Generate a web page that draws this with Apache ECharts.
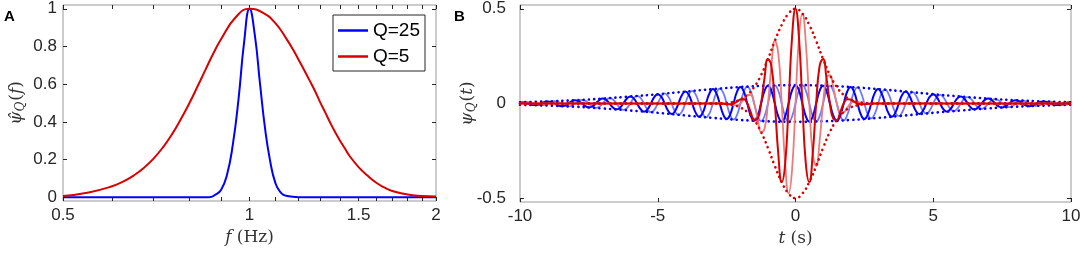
<!DOCTYPE html>
<html>
<head>
<meta charset="utf-8">
<script src="https://cdn.jsdelivr.net/npm/echarts@6/dist/echarts.min.js"></script>
<style>
  html, body { margin: 0; padding: 0; background: #fff; }
  #chart { width: 1084px; height: 256px; }
</style>
</head>
<body>
<div id="chart"></div>
<script>
// ---- panel A: frequency response (x is log scale, 0.5 .. 2 Hz)
const freqTicks = [0.5, 0.6, 0.7, 0.8, 0.9, 1, 1.1, 1.2, 1.3, 1.4, 1.5, 1.6, 1.7, 1.8, 1.9, 2];
const freqLabels = [0.5, 1, 1.5, 2];
const respTicks = [0, 0.2, 0.4, 0.6, 0.8, 1];

const freqBlue = [0.5, 0.8, 0.86, 0.88, 0.9, 0.92, 0.94, 0.96, 0.98, 1, 1.02, 1.04, 1.06, 1.08, 1.1, 1.12, 1.15, 1.2, 1.5, 2];
const respBlue = [0, 0, 0, 0.012, 0.04, 0.12, 0.28, 0.52, 0.82, 1, 0.86, 0.6, 0.36, 0.19, 0.08, 0.03, 0.006, 0, 0, 0];

const freqRed = [0.5, 0.55, 0.6, 0.625, 0.65, 0.675, 0.7, 0.725, 0.75, 0.775, 0.8, 0.825, 0.85, 0.875, 0.9, 0.95, 1,
  1.05, 1.1, 1.15, 1.175, 1.2, 1.225, 1.25, 1.275, 1.3, 1.325, 1.35, 1.375, 1.4, 1.425, 1.45, 1.5, 1.55, 1.6, 1.65,
  1.7, 1.8, 1.9, 2];
const respRed = [0.006, 0.025, 0.058, 0.083, 0.115, 0.155, 0.205, 0.265, 0.335, 0.415, 0.5, 0.59, 0.68, 0.765, 0.84, 0.955, 1,
  0.98, 0.925, 0.835, 0.785, 0.73, 0.675, 0.62, 0.565, 0.505, 0.45, 0.395, 0.345, 0.3, 0.26, 0.22, 0.16, 0.115, 0.078, 0.052,
  0.033, 0.014, 0.007, 0.004];

// ---- panel B: wavelets in time
const timeTicks = [-0.5, 0, 0.5];

// Q=25, sampled every 1/8 s
const tBlue = [-10,
  -9.875, -9.75, -9.625, -9.5, -9.375, -9.25, -9.125, -9,
  -8.875, -8.75, -8.625, -8.5, -8.375, -8.25, -8.125, -8,
  -7.875, -7.75, -7.625, -7.5, -7.375, -7.25, -7.125, -7,
  -6.875, -6.75, -6.625, -6.5, -6.375, -6.25, -6.125, -6,
  -5.875, -5.75, -5.625, -5.5, -5.375, -5.25, -5.125, -5,
  -4.875, -4.75, -4.625, -4.5, -4.375, -4.25, -4.125, -4,
  -3.875, -3.75, -3.625, -3.5, -3.375, -3.25, -3.125, -3,
  -2.875, -2.75, -2.625, -2.5, -2.375, -2.25, -2.125, -2,
  -1.875, -1.75, -1.625, -1.5, -1.375, -1.25, -1.125, -1,
  -0.875, -0.75, -0.625, -0.5, -0.375, -0.25, -0.125,
  0, 0.125, 0.25, 0.375, 0.5, 0.625, 0.75, 0.875,
  1, 1.125, 1.25, 1.375, 1.5, 1.625, 1.75, 1.875,
  2, 2.125, 2.25, 2.375, 2.5, 2.625, 2.75, 2.875,
  3, 3.125, 3.25, 3.375, 3.5, 3.625, 3.75, 3.875,
  4, 4.125, 4.25, 4.375, 4.5, 4.625, 4.75, 4.875,
  5, 5.125, 5.25, 5.375, 5.5, 5.625, 5.75, 5.875,
  6, 6.125, 6.25, 6.375, 6.5, 6.625, 6.75, 6.875,
  7, 7.125, 7.25, 7.375, 7.5, 7.625, 7.75, 7.875,
  8, 8.125, 8.25, 8.375, 8.5, 8.625, 8.75, 8.875,
  9, 9.125, 9.25, 9.375, 9.5, 9.625, 9.75, 9.875,
  10];
const blueRe = [0.0065,
  0.005, 0, -0.0057, -0.0085, -0.0064, 0, 0.0074, 0.011,
  0.0083, 0, -0.0092, -0.014, -0.0105, 0, 0.0113, 0.017,
  0.0127, 0, -0.014, -0.021, -0.0156, 0, 0.0173, 0.026,
  0.019, 0, -0.021, -0.031, -0.023, 0, 0.025, 0.037,
  0.027, 0, -0.029, -0.043, -0.0315, 0, 0.0335, 0.049,
  0.036, 0, -0.0385, -0.056, -0.041, 0, 0.0435, 0.063,
  0.046, 0, -0.048, -0.070, -0.051, 0, 0.053, 0.076,
  0.055, 0, -0.057, -0.082, -0.059, 0, 0.061, 0.087,
  0.062, 0, -0.064, -0.091, -0.065, 0, 0.066, 0.094,
  0.067, 0, -0.0675, -0.096, -0.068, 0, 0.069,
  0.097, 0.069, 0, -0.068, -0.096, -0.0675, 0, 0.067,
  0.094, 0.066, 0, -0.065, -0.091, -0.064, 0, 0.062,
  0.087, 0.061, 0, -0.059, -0.082, -0.057, 0, 0.055,
  0.076, 0.053, 0, -0.051, -0.070, -0.048, 0, 0.046,
  0.063, 0.0435, 0, -0.041, -0.056, -0.0385, 0, 0.036,
  0.049, 0.0335, 0, -0.0315, -0.043, -0.029, 0, 0.027,
  0.037, 0.025, 0, -0.023, -0.031, -0.021, 0, 0.019,
  0.026, 0.0173, 0, -0.0156, -0.021, -0.014, 0, 0.0127,
  0.017, 0.0113, 0, -0.0105, -0.014, -0.0092, 0, 0.0083,
  0.011, 0.0074, 0, -0.0064, -0.0085, -0.0057, 0, 0.005,
  0.0065];
const blueIm = [0,
  0.005, 0.0075, 0.0057, 0, -0.0064, -0.0097, -0.0074, 0,
  0.0083, 0.0125, 0.0092, 0, -0.0105, -0.0155, -0.0113, 0,
  0.0127, 0.019, 0.014, 0, -0.0156, -0.023, -0.0173, 0,
  0.019, 0.028, 0.021, 0, -0.023, -0.034, -0.025, 0,
  0.027, 0.040, 0.029, 0, -0.0315, -0.046, -0.0335, 0,
  0.036, 0.053, 0.0385, 0, -0.041, -0.060, -0.0435, 0,
  0.046, 0.067, 0.048, 0, -0.051, -0.073, -0.053, 0,
  0.055, 0.079, 0.057, 0, -0.059, -0.085, -0.061, 0,
  0.062, 0.089, 0.064, 0, -0.065, -0.093, -0.066, 0,
  0.067, 0.095, 0.0675, 0, -0.068, -0.097, -0.069,
  0, 0.069, 0.097, 0.068, 0, -0.0675, -0.095, -0.067,
  0, 0.066, 0.093, 0.065, 0, -0.064, -0.089, -0.062,
  0, 0.061, 0.085, 0.059, 0, -0.057, -0.079, -0.055,
  0, 0.053, 0.073, 0.051, 0, -0.048, -0.067, -0.046,
  0, 0.0435, 0.060, 0.041, 0, -0.0385, -0.053, -0.036,
  0, 0.0335, 0.046, 0.0315, 0, -0.029, -0.040, -0.027,
  0, 0.025, 0.034, 0.023, 0, -0.021, -0.028, -0.019,
  0, 0.0173, 0.023, 0.0156, 0, -0.014, -0.019, -0.0127,
  0, 0.0113, 0.0155, 0.0105, 0, -0.0092, -0.0125, -0.0083,
  0, 0.0074, 0.0097, 0.0064, 0, -0.0057, -0.0075, -0.005,
  0];

const tBlueEnv = [-10, -9, -8, -7, -6, -5, -4, -3, -2, -1, 0, 1, 2, 3, 4, 5, 6, 7, 8, 9, 10];
const blueEnv = [0.0065, 0.011, 0.017, 0.026, 0.037, 0.049, 0.063, 0.076, 0.087, 0.094, 0.097,
  0.094, 0.087, 0.076, 0.063, 0.049, 0.037, 0.026, 0.017, 0.011, 0.0065];

// Q=5
const tRed = [-10, -3, -2.875, -2.75, -2.625, -2.5, -2.375, -2.25, -2.125, -2, -1.875, -1.75, -1.625,
  -1.5, -1.375, -1.25, -1.125, -1, -0.875, -0.75, -0.625, -0.5, -0.375, -0.25, -0.125, 0,
  0.125, 0.25, 0.375, 0.5, 0.625, 0.75, 0.875, 1, 1.125, 1.25, 1.375, 1.5, 1.625, 1.75,
  1.875, 2, 2.125, 2.25, 2.375, 2.5, 2.625, 2.75, 2.875, 3, 10];
const redRe = [0, 0, 0.0005, 0, -0.0017, -0.0035, -0.004, 0, 0.010, 0.021, 0.022, 0, -0.045,
  -0.087, -0.081, 0, 0.134, 0.235, 0.198, 0, -0.265, -0.415, -0.318, 0, 0.35, 0.5,
  0.35, 0, -0.318, -0.415, -0.265, 0, 0.198, 0.235, 0.134, 0, -0.081, -0.087, -0.045, 0,
  0.022, 0.021, 0.010, 0, -0.004, -0.0035, -0.0017, 0, 0.0005, 0, 0];
const redIm = [0, 0, 0.0005, 0.001, 0.0017, 0, -0.004, -0.009, -0.010, 0, 0.022, 0.045, 0.045,
  0, -0.081, -0.15, -0.134, 0, 0.198, 0.33, 0.265, 0, -0.318, -0.475, -0.35, 0,
  0.35, 0.475, 0.318, 0, -0.265, -0.33, -0.198, 0, 0.134, 0.15, 0.081, 0, -0.045, -0.045,
  -0.022, 0, 0.010, 0.009, 0.004, 0, -0.0017, -0.001, -0.0005, 0, 0];

const tRedEnv = [-10, -3, -2.75, -2.5, -2.25, -2, -1.75, -1.5, -1.25, -1, -0.75, -0.5, -0.25, 0,
  0.25, 0.5, 0.75, 1, 1.25, 1.5, 1.75, 2, 2.25, 2.5, 2.75, 3, 10];
const redEnv = [0, 0, 0.001, 0.0035, 0.009, 0.021, 0.045, 0.087, 0.15, 0.235, 0.33, 0.415, 0.475, 0.5,
  0.475, 0.415, 0.33, 0.235, 0.15, 0.087, 0.045, 0.021, 0.009, 0.0035, 0.001, 0, 0];

const BLUE = "#0000ff";
const BLUE_LIGHT = "#6b7bff";
const RED = "#d90000";
const RED_LIGHT = "#ef7a7a";
const TXT = "#262626";

function pairs(xs, ys, fx) {
  return xs.map((x, i) => [fx ? fx(x) : x, ys[i]]);
}

const tick = { show: true, inside: true, length: 4, lineStyle: { color: TXT, width: 1 } };
const noLine = { show: false, onZero: false };
const label = { fontFamily: "Liberation Sans", fontSize: 17, color: TXT };
const serif = { fontFamily: "DejaVu Serif", fontSize: 17, color: "#333" };
const serifI = Object.assign({}, serif, { fontStyle: "italic" });

function line(name, data, color, width, xi, yi, extra) {
  return Object.assign({
    name: name,
    type: "line",
    xAxisIndex: xi,
    yAxisIndex: yi,
    data: data,
    symbol: "none",
    smooth: 0.5,
    lineStyle: { color: color, width: width },
    itemStyle: { color: color },
    silent: true
  }, extra || {});
}

const dotted = (color) => ({ color: color, width: 2.6, type: [0.1, 5.2], cap: "round" });

const logTicks = freqTicks.map(Math.log2);
const logLabels = freqLabels.map(Math.log2);

const options = {
  animation: false,
  backgroundColor: "#fff",
  grid: [
    { left: 63, top: 5, width: 373, height: 196, show: true, borderColor: "#999", borderWidth: 1 },
    { left: 520, top: 5, width: 551, height: 197, show: true, borderColor: "#999", borderWidth: 1 }
  ],
  legend: {
    data: ["Q=25", "Q=5"],
    orient: "vertical",
    left: 333,
    top: 15,
    padding: [6, 5, 5, 5],
    itemGap: 7,
    itemWidth: 30,
    itemHeight: 2.5,
    icon: "rect",
    borderColor: TXT,
    borderWidth: 1,
    backgroundColor: "#fff",
    textStyle: { fontFamily: "Liberation Sans", fontSize: 19, color: "#000", lineHeight: 19 }
  },
  xAxis: [
    {
      gridIndex: 0, type: "value", position: "bottom", min: -1, max: 1,
      axisLine: noLine, splitLine: { show: false },
      axisTick: Object.assign({ customValues: logTicks }, tick),
      axisLabel: Object.assign({ customValues: logLabels, margin: 6,
        formatter: (v) => String(+Math.pow(2, v).toFixed(2)) }, label),
      name: "{i|f}{p| (Hz)}", nameLocation: "middle", nameGap: 25,
      nameTextStyle: { rich: { i: serifI, p: serif } }
    },
    {
      gridIndex: 0, type: "value", position: "top", min: -1, max: 1,
      axisLine: noLine, splitLine: { show: false },
      axisTick: Object.assign({ customValues: logTicks }, tick),
      axisLabel: { show: false }
    },
    {
      gridIndex: 1, type: "value", position: "bottom", min: -10, max: 10, interval: 5,
      axisLine: noLine, splitLine: { show: false },
      axisTick: tick,
      axisLabel: Object.assign({ margin: 6 }, label),
      name: "{i|t}{p| (s)}", nameLocation: "middle", nameGap: 25,
      nameTextStyle: { rich: { i: serifI, p: serif } }
    },
    {
      gridIndex: 1, type: "value", position: "top", min: -10, max: 10, interval: 5,
      axisLine: noLine, splitLine: { show: false },
      axisTick: tick, axisLabel: { show: false }
    }
  ],
  yAxis: [
    {
      gridIndex: 0, type: "value", position: "left", min: -0.02, max: 1.02,
      axisLine: noLine, splitLine: { show: false },
      axisTick: Object.assign({ customValues: respTicks }, tick),
      axisLabel: Object.assign({ customValues: respTicks, margin: 6 }, label),
      name: "{h|\u03C8\u0302}{s|Q}{p|(}{i|f}{p|)}", nameLocation: "middle", nameGap: 36,
      nameMoveOverlap: false,
      nameTextStyle: { rich: {
        h: serifI, i: serifI, p: serif,
        s: Object.assign({}, serifI, { fontSize: 12, padding: [9, 1, 0, 0] })
      } }
    },
    {
      gridIndex: 0, type: "value", position: "right", min: -0.02, max: 1.02,
      axisLine: noLine, splitLine: { show: false },
      axisTick: Object.assign({ customValues: respTicks }, tick),
      axisLabel: { show: false }
    },
    {
      gridIndex: 1, type: "value", position: "left", min: -0.52, max: 0.52,
      axisLine: noLine, splitLine: { show: false },
      axisTick: Object.assign({ customValues: timeTicks }, tick),
      axisLabel: Object.assign({ customValues: timeTicks, margin: 14 }, label),
      name: "{h|\u03C8}{s|Q}{p|(}{i|t}{p|)}", nameLocation: "middle", nameGap: 42,
      nameMoveOverlap: false,
      nameTextStyle: { rich: {
        h: serifI, i: serifI, p: serif,
        s: Object.assign({}, serifI, { fontSize: 12, padding: [9, 1, 0, 0] })
      } }
    },
    {
      gridIndex: 1, type: "value", position: "right", min: -0.52, max: 0.52,
      axisLine: noLine, splitLine: { show: false },
      axisTick: Object.assign({ customValues: timeTicks }, tick),
      axisLabel: { show: false }
    }
  ],
  graphic: [
    { type: "text", left: 4, top: 9, style: { text: "A", font: "bold 15px 'Liberation Sans'", fill: "#000" } },
    { type: "text", left: 454, top: 9, style: { text: "B", font: "bold 15px 'Liberation Sans'", fill: "#000" } }
  ],
  series: [
    line("Q=25", pairs(freqBlue, respBlue, Math.log2), BLUE, 2, 0, 0),
    line("Q=5", pairs(freqRed, respRed, Math.log2), RED, 2, 0, 0),

    line("blueIm", pairs(tBlue, blueIm), BLUE_LIGHT, 1.8, 2, 2),
    line("blueRe", pairs(tBlue, blueRe), BLUE, 2, 2, 2),
    line("blueEnvUp", pairs(tBlueEnv, blueEnv), BLUE, 2, 2, 2, { lineStyle: dotted(BLUE) }),
    line("blueEnvLo", pairs(tBlueEnv, blueEnv.map((v) => -v)), BLUE, 2, 2, 2, { lineStyle: dotted(BLUE) }),

    line("redIm", pairs(tRed, redIm), RED_LIGHT, 1.8, 2, 2),
    line("redRe", pairs(tRed, redRe), RED, 2, 2, 2),
    line("redEnvUp", pairs(tRedEnv, redEnv), RED, 2, 2, 2, { lineStyle: dotted(RED) }),
    line("redEnvLo", pairs(tRedEnv, redEnv.map((v) => -v)), RED, 2, 2, 2, { lineStyle: dotted(RED) })
  ]
};

const myChart = echarts.init(document.getElementById("chart"));
myChart.setOption(options);
window.addEventListener("resize", () => myChart.resize());
</script>
</body>
</html>
